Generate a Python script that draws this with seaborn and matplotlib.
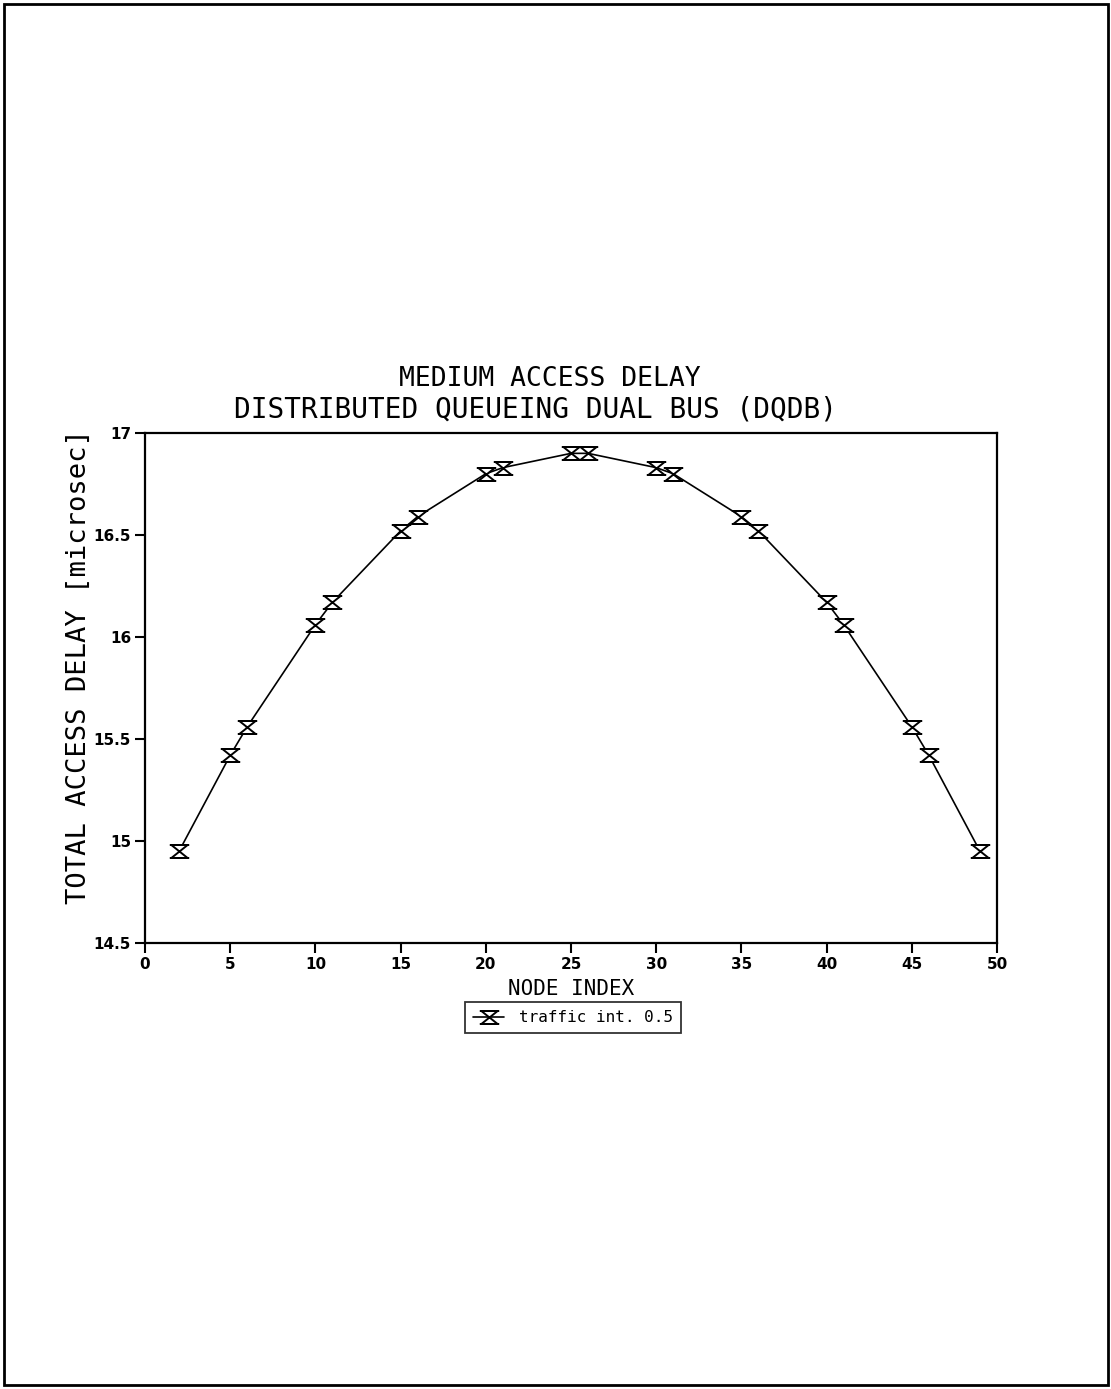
import matplotlib
matplotlib.use("Agg")
import matplotlib.pyplot as plt
import seaborn as sns
import pandas as pd
from matplotlib.path import Path
from matplotlib.patches import Rectangle

node_index = [2, 5, 6, 10, 11, 15, 16, 20, 21, 25, 26, 30, 31, 35, 36, 40, 41, 45, 46, 49]
delay = [14.95, 15.42, 15.56, 16.06, 16.17, 16.52, 16.59, 16.80, 16.83, 16.90,
         16.90, 16.83, 16.80, 16.59, 16.52, 16.17, 16.06, 15.56, 15.42, 14.95]
series_label = "traffic int. 0.5"
x_ticks = [0, 5, 10, 15, 20, 25, 30, 35, 40, 45, 50]
y_ticks = [14.5, 15, 15.5, 16, 16.5, 17]
y_tick_labels = ["14.5", "15", "15.5", "16", "16.5", "17"]

df = pd.DataFrame({"node": node_index, "delay": delay, "series": series_label})

sns.set_style("white")
plt.rcParams["font.family"] = ["DejaVu Sans Mono", "DejaVu Sans"]
plt.rcParams["text.color"] = "black"
plt.rcParams["axes.labelcolor"] = "black"
plt.rcParams["xtick.color"] = "black"
plt.rcParams["ytick.color"] = "black"

# hourglass marker
verts = [(-1, 0.8), (1, 0.8), (0, 0), (1, -0.8), (-1, -0.8), (0, 0), (-1, 0.8),
         (-1.2, 0.8), (1.2, 0.8), (-1.2, -0.8), (1.2, -0.8)]
codes = [Path.MOVETO, Path.LINETO, Path.LINETO, Path.LINETO, Path.LINETO, Path.LINETO, Path.CLOSEPOLY,
         Path.MOVETO, Path.LINETO, Path.MOVETO, Path.LINETO]
hourglass = Path(verts, codes)

fig = plt.figure(figsize=(11.11, 13.89), dpi=100)
ax = fig.add_axes([0.1305, 0.3211, 0.8974 - 0.1305, 0.6883 - 0.3211])

sns.lineplot(data=df, x="node", y="delay", ax=ax, color="black", linewidth=1.2,
             marker=hourglass, markersize=14, markerfacecolor="white",
             markeredgecolor="black", markeredgewidth=1.4, label=series_label, legend=False)

ax.set_xlim(0, 50)
ax.set_ylim(14.5, 17)
ax.set_xticks(x_ticks)
ax.set_xticklabels([str(t) for t in x_ticks])
ax.set_yticks(y_ticks)
ax.set_yticklabels(y_tick_labels)
for lab in ax.get_xticklabels() + ax.get_yticklabels():
    lab.set_family("DejaVu Sans")
    lab.set_fontweight("bold")
    lab.set_fontsize(11)
    lab.set_color("black")
ax.tick_params(axis="both", direction="out", length=7, width=1.5, color="black",
               bottom=True, left=True, top=False, right=False, pad=3)
for s in ax.spines.values():
    s.set_color("black")
    s.set_linewidth(1.6)

ax.set_xlabel("NODE INDEX", fontsize=15, labelpad=5)
ylab = ax.set_ylabel("TOTAL ACCESS DELAY [microsec]", fontsize=19.5)
ylab.set_va("center")
ax.yaxis.set_label_coords(-0.077, 0.541)

fig.text(0.495, 0.727, "MEDIUM ACCESS DELAY", ha="center", va="center", fontsize=19)
fig.text(0.482, 0.705, "DISTRIBUTED QUEUEING DUAL BUS (DQDB)", ha="center", va="center", fontsize=20)

leg = ax.legend(loc="upper center", bbox_to_anchor=(0.502, -0.116), frameon=True,
                fancybox=False, edgecolor="black", fontsize=11.5, handlelength=2.0,
                borderpad=0.5, handletextpad=0.9, borderaxespad=0)
leg.get_frame().set_linewidth(1.3)

fig.patches.append(Rectangle((0.004, 0.003), 0.993, 0.994, transform=fig.transFigure,
                             fill=False, edgecolor="black", linewidth=2))

fig.savefig("out.png", dpi=100, facecolor="white")
